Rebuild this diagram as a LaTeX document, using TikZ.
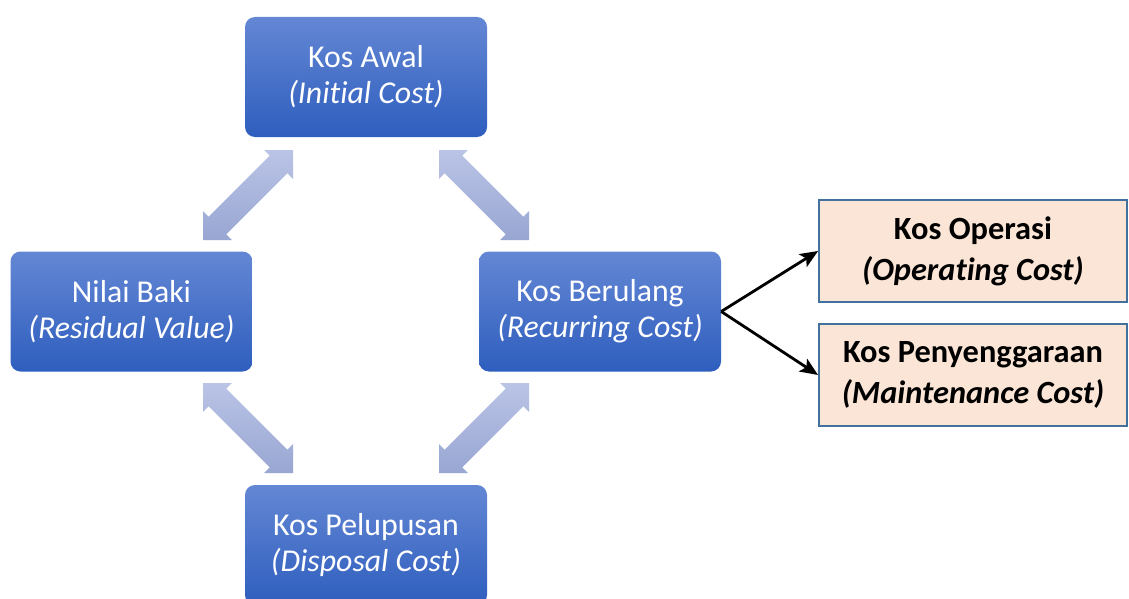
\documentclass[tikz,border=0pt]{standalone}
\usepackage{fontspec}
\setmainfont{Carlito}[Ligatures={NoCommon}]
\usetikzlibrary{calc,arrows.meta}
\definecolor{btop}{RGB}{100,135,212}
\definecolor{bbot}{RGB}{46,94,190}
\definecolor{atop}{RGB}{186,196,230}
\definecolor{abot}{RGB}{152,166,210}
\definecolor{peach}{RGB}{251,229,214}
\definecolor{pborder}{RGB}{65,113,156}
\newcommand\fatarr[2]{%
 \coordinate (fa1) at ($(#1)!20.5pt!(#2)$);
 \coordinate (fa2) at ($(#2)!20.5pt!(#1)$);
 \shade[top color=atop,bottom color=abot] (#1) -- ($(fa1)!20.5pt!90:(#2)$) -- ($(fa1)!12.5pt!90:(#2)$) -- ($(fa2)!12.5pt!-90:(#1)$) -- ($(fa2)!20.5pt!-90:(#1)$) -- (#2) -- ($(fa2)!20.5pt!90:(#1)$) -- ($(fa2)!12.5pt!90:(#1)$) -- ($(fa1)!12.5pt!-90:(#2)$) -- ($(fa1)!20.5pt!-90:(#2)$) -- cycle;}
\tikzset{
 bluebox/.style={rounded corners=10pt, top color=btop, bottom color=bbot, text=white,
   minimum width=242pt, minimum height=120pt, align=center, inner sep=0pt,
   font=\fontsize{31.8}{36}\selectfont},
 peachbox/.style={draw=pborder, line width=1.8pt, fill=peach, text=black,
   minimum width=308pt, minimum height=102pt, align=center, inner sep=0pt,
   font=\bfseries\fontsize{32.4}{41}\selectfont},
 conn/.style={line width=2.8pt, -{Stealth[length=18pt,width=15pt,inset=4pt]}}
}
\begin{document}
\begin{tikzpicture}[x=1pt,y=-1pt]
\useasboundingbox (0,0) rectangle (1129,599);
\fill[white] (0,0) rectangle (1129,599);
\node[bluebox] (awal) at (366,77) {Kos Awal\\\textit{(Initial Cost)}};
\node[bluebox] (baki) at (131.5,311.5) {Nilai Baki\\\textit{(Residual Value)}};
\node[bluebox] (ber) at (600,311.5) {Kos Berulang\\\textit{(Recurring Cost)}};
\node[bluebox] (pel) at (366,545) {Kos Pelupusan\\\textit{(Disposal Cost)}};
\node[peachbox] (op) at (973,251) {Kos Operasi\\\textit{(Operating Cost)}};
\node[peachbox] (pen) at (973,375) {Kos Penyenggaraan\\\textit{(Maintenance Cost)}};
\coordinate (tl1) at (203,240); \coordinate (tl2) at (293,150);
\coordinate (tr1) at (439,150); \coordinate (tr2) at (529,240);
\coordinate (bl1) at (203,383); \coordinate (bl2) at (293,473);
\coordinate (br1) at (439,473); \coordinate (br2) at (529,383);
\fatarr{tl1}{tl2}
\fatarr{tr1}{tr2}
\fatarr{bl1}{bl2}
\fatarr{br1}{br2}
\draw[conn] (ber.east) -- (op.west);
\draw[conn] (ber.east) -- (pen.west);
\end{tikzpicture}
\end{document}
